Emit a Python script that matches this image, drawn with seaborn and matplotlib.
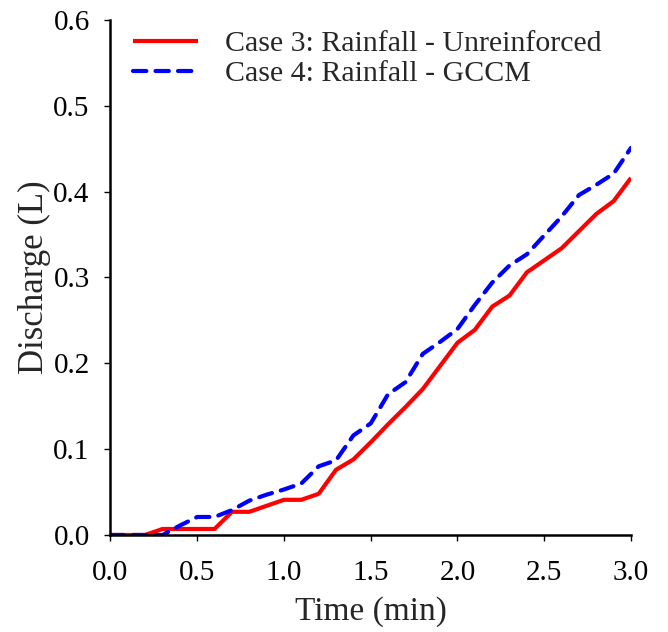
import numpy as np
import pandas as pd
import seaborn as sns
import matplotlib
matplotlib.use("Agg")
import matplotlib.pyplot as plt

time_min = [0.0, 0.1, 0.2, 0.3, 0.4, 0.5, 0.6, 0.7, 0.8, 0.9, 1.0,
            1.1, 1.2, 1.3, 1.4, 1.5, 1.6, 1.7, 1.8, 1.9, 2.0,
            2.1, 2.2, 2.3, 2.4, 2.5, 2.6, 2.7, 2.8, 2.9, 3.0]
case3_unreinforced = [0.0, 0.0, 0.0, 0.007, 0.007, 0.007, 0.007, 0.027, 0.027, 0.034, 0.041,
                      0.041, 0.048, 0.076, 0.088, 0.108, 0.129, 0.149, 0.170, 0.197, 0.224,
                      0.239, 0.266, 0.279, 0.306, 0.320, 0.334, 0.354, 0.374, 0.389, 0.416]
case4_gccm = [0.0, 0.0, 0.0, 0.0, 0.011, 0.021, 0.021, 0.029, 0.040, 0.047, 0.053,
              0.060, 0.080, 0.087, 0.116, 0.130, 0.164, 0.178, 0.211, 0.225, 0.240,
              0.268, 0.294, 0.314, 0.327, 0.349, 0.371, 0.396, 0.408, 0.421, 0.451]
labels = ["Case 3: Rainfall - Unreinforced", "Case 4: Rainfall - GCCM"]
x_ticks = [0.0, 0.5, 1.0, 1.5, 2.0, 2.5, 3.0]
y_ticks = [0.0, 0.1, 0.2, 0.3, 0.4, 0.5, 0.6]

sns.set_theme(style="ticks")
plt.rcParams["font.family"] = ["Liberation Serif", "DejaVu Serif"]

df = pd.DataFrame({"time": time_min, "c3": case3_unreinforced, "c4": case4_gccm})

fig = plt.figure(figsize=(6.68, 6.32), dpi=100)
ax = fig.add_axes([0.1654, 0.1535, 0.7792, 0.8149])

sns.lineplot(data=df, x="time", y="c3", ax=ax, color="#ff0000", lw=3.0,
             label=labels[0], solid_capstyle="butt")
sns.lineplot(data=df, x="time", y="c4", ax=ax, color="#0000ff", lw=3.0,
             linestyle=(0, (3.2, 2.2)), dash_capstyle="round", label=labels[1])

ax.set_xlim(0, 3.0)
ax.set_ylim(0, 0.6)
ax.set_xticks(x_ticks)
ax.set_yticks(y_ticks)
ax.set_xticklabels([f"{v:.1f}" for v in x_ticks])
ax.set_yticklabels([f"{v:.1f}" for v in y_ticks])
ax.set_xlabel("Time (min)", fontsize=24, labelpad=7)
ax.set_ylabel("Discharge (L)", fontsize=25, labelpad=2)
ax.tick_params(axis="both", direction="out", length=4, width=1.0, labelsize=21, colors="black")
ax.tick_params(axis="x", pad=14)
ax.tick_params(axis="y", pad=11)
sns.despine(ax=ax)
for s in ["left", "bottom"]:
    ax.spines[s].set_linewidth(1.8)
    ax.spines[s].set_color("black")
ax.grid(False)

ax.legend(loc="upper left", bbox_to_anchor=(0.043, 0.98), frameon=False,
          fontsize=21.5, handlelength=2.17, handletextpad=0.9,
          labelspacing=0.1, borderpad=0, borderaxespad=0)

fig.savefig("out.png", dpi=100)
